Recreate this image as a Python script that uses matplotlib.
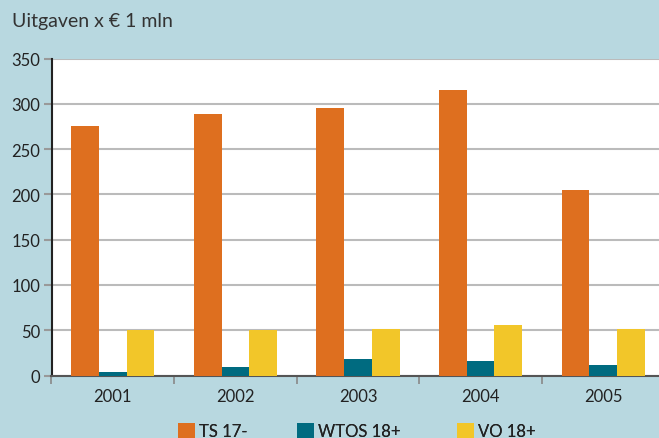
import matplotlib
matplotlib.use("Agg")
import matplotlib.pyplot as plt
import numpy as np
from matplotlib.patches import Patch

years = ["2001", "2002", "2003", "2004", "2005"]
ts17 = [276, 289, 295, 315, 205]
wtos18 = [4, 9, 18, 16, 12]
vo18 = [50, 50, 51, 56, 51]
series_names = ["TS 17-", "WTOS 18+", "VO 18+"]
colors = ["#de6f1f", "#006b80", "#f2c629"]
yticks = [0, 50, 100, 150, 200, 250, 300, 350]

bg = "#b8d8e0"
W, H = 659, 439
fig = plt.figure(figsize=(W / 100, H / 100), dpi=100, facecolor=bg)
plt.rcParams['font.family'] = ['Lato', 'DejaVu Sans']

ax = fig.add_axes([51.5 / W, (H - 376.5) / H, 613 / W, (376.5 - 59.5) / H])
ax.set_facecolor("white")

x = np.arange(len(years))
bw = 0.226
for i, (vals, c) in enumerate(zip([ts17, wtos18, vo18], colors)):
    ax.bar(x + (i - 1) * bw, vals, width=bw, color=c, zorder=3, label=series_names[i])

ax.set_xlim(-0.5, len(years) - 0.5)
ax.set_ylim(0, 350)
ax.set_yticks(yticks)
ax.set_yticklabels([str(v) for v in yticks], fontsize=12, color="#222222")
ax.yaxis.grid(True, color="#bbbbbb", linewidth=1.5, zorder=0)
ax.tick_params(axis="y", length=6, width=1.5, color="#999999", pad=2)

ax.set_xticks(x)
ax.set_xticklabels(years, fontsize=12, color="#222222")
ax.set_xticks(np.arange(-0.5, len(years) + 0.5, 1), minor=True)
ax.tick_params(axis="x", which="major", length=0, pad=9)
ax.tick_params(axis="x", which="minor", length=6, width=1.2, color="#888888")

for s in ["top", "right"]:
    ax.spines[s].set_visible(False)
ax.spines["left"].set_color("#222222")
ax.spines["left"].set_linewidth(1.5)
ax.spines["bottom"].set_color("#555555")
ax.spines["bottom"].set_linewidth(1.5)

fig.text(12 / W, 1 - 22 / H, "Uitgaven x € 1 mln", fontsize=14, color="#333333",
         ha="left", va="center")

legend_x = [178, 297, 457]
for name, c, lx in zip(series_names, colors, legend_x):
    leg = fig.legend([Patch(facecolor=c, edgecolor="none")], [name], loc="center left",
                     bbox_to_anchor=(lx / W, 1 - 432 / H), frameon=False, fontsize=12,
                     handlelength=1.0, handleheight=1.0, handletextpad=0.25,
                     borderpad=0.0, borderaxespad=0.0, labelcolor="#222222")
    fig.add_artist(leg)

fig.savefig("out.png", dpi=100, facecolor=bg)
